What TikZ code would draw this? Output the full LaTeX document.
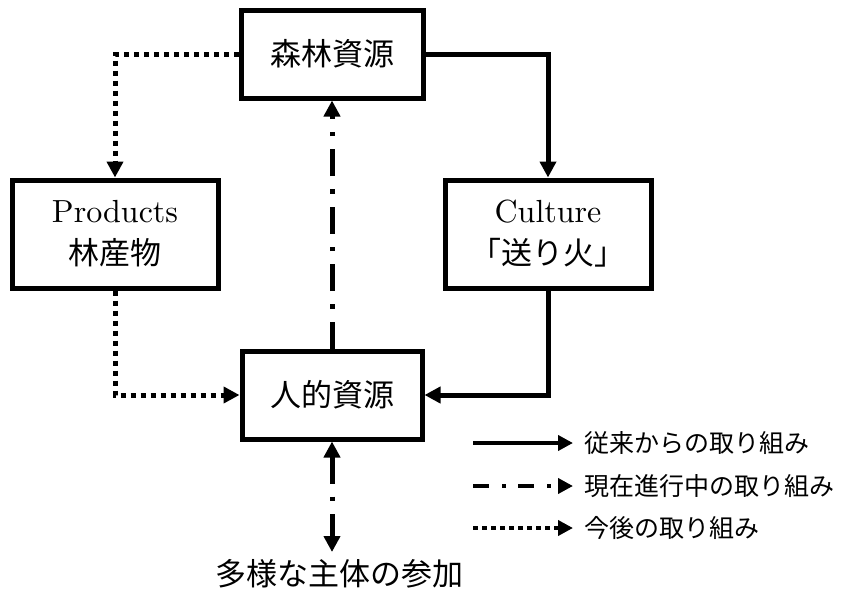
\documentclass[tikz,border=0pt]{standalone}
\usepackage{fontspec}
\setmainfont{lmroman10-regular}[Extension=.otf]
\newfontfamily\jp{Noto Sans CJK JP}
\usetikzlibrary{arrows.meta}
\begin{document}
\begin{tikzpicture}[x=1pt,y=-1pt,
  box/.style={draw, line width=5pt, inner sep=0pt, align=center,
    font=\fontsize{31}{42}\selectfont},
  conn/.style={line width=5pt, line join=miter},
  tip/.style={-{Triangle[length=16pt,width=16pt]}},
  bitip/.style={{Triangle[length=16pt,width=16pt]}-{Triangle[length=16pt,width=16pt]}},
  dotline/.style={dash pattern=on 5pt off 5pt},
  dashdotline/.style={dash pattern=on 27pt off 13pt on 4.5pt off 13pt},
  legline/.style={line width=4.5pt, -{Triangle[length=15pt,width=15pt]}},
  legtext/.style={anchor=west, inner sep=0pt, font=\jp\fontsize{25}{30}\selectfont},
  jptext/.style={inner sep=0pt, font=\jp\fontsize{31}{36}\selectfont}
]
\useasboundingbox (0,0) rectangle (844,597);

% boxes
\node[box, minimum width=182pt, minimum height=88pt] (forest) at (332,54) {{\jp 森林資源}};
\node[box, minimum width=206pt, minimum height=108pt] (prod) at (115,234)
  {{\fontsize{32}{42}\selectfont Products}\\{\jp 林産物}};
\node[box, minimum width=206pt, minimum height=108pt] (cult) at (548,234)
  {{\fontsize{32}{42}\selectfont Culture}\\{\jp 「送り火」}};
\node[box, minimum width=180pt, minimum height=88pt] (hum) at (332,395) {{\jp 人的資源}};

% connectors
\draw[conn, tip] (forest.east) -| (cult.north);
\draw[conn, tip] (cult.south) |- (hum.east);
\draw[conn, tip, dotline] (forest.west) -| (prod.north);
\draw[conn, tip, dotline] (prod.south) |- (hum.west);
\draw[conn, tip, dashdotline] (hum.north) -- (forest.south);

% bottom participation
\node[jptext] (part) at (339,574) {多様な主体の参加};
\coordinate (pend) at (332,552);
\draw[conn, bitip, dashdotline] (hum.south) -- (pend);

% legend
\coordinate (l1a) at (473,443); \coordinate (l1b) at (573,443);
\coordinate (l2a) at (473,486); \coordinate (l2b) at (573,486);
\coordinate (l3a) at (473,528); \coordinate (l3b) at (573,528);
\draw[legline] (l1a) -- (l1b);
\draw[legline, dash pattern=on 16pt off 13pt on 4pt off 12pt] (l2a) -- (l2b);
\draw[legline, dash pattern=on 4.5pt off 4.5pt] (l3a) -- (l3b);
\node[legtext] (t1) at (584,443) {従来からの取り組み};
\node[legtext] (t2) at (584,486) {現在進行中の取り組み};
\node[legtext] (t3) at (584,528) {今後の取り組み};
\end{tikzpicture}
\end{document}
